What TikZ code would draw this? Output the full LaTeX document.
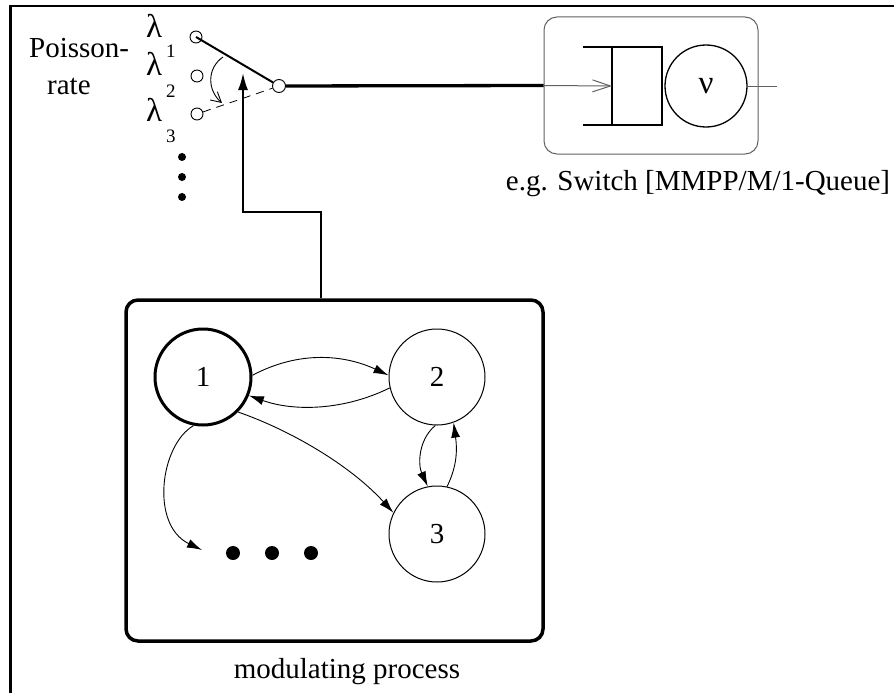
\documentclass[tikz,border=0pt]{standalone}
\usepackage{fontspec}
\setmainfont{Liberation Serif}
\usetikzlibrary{arrows.meta,calc}
\definecolor{boxgray}{gray}{0.38}
\begin{document}
\begin{tikzpicture}[x=1pt,y=-1pt,
  bigfont/.style={font=\fontsize{29}{33}\selectfont},
  lamfont/.style={font=\fontsize{33}{36}\selectfont},
  subfont/.style={font=\fontsize{19}{22}\selectfont},
  txt/.style={inner sep=0pt,bigfont},
  contact/.style={circle,draw,line width=0.9pt,minimum size=12pt,inner sep=0pt},
  state/.style={circle,draw,line width=1pt,minimum size=96pt,inner sep=0pt,bigfont},
  bigdot/.style={circle,fill,minimum size=14pt,inner sep=0pt},
  smalldot/.style={circle,fill,minimum size=8pt,inner sep=0pt},
  trans/.style={line width=0.9pt,-{Latex[length=15pt,width=9pt]}},
  ]
\useasboundingbox (0,0) rectangle (894,693);
% frame
\draw[line width=2.5pt] (10.5,693) -- (10.5,6) -- (894,6);

% Poisson rate text
\node[txt,anchor=base west] (ptxt) at (29,58) {Poisson-};
\node[txt,anchor=base west] (rtxt) at (47,95) {rate};

% lambdas
\node[inner sep=0pt,lamfont,anchor=base west] (l1) at (146,38) {λ};
\node[inner sep=0pt,lamfont,anchor=base west] (l2) at (146,76) {λ};
\node[inner sep=0pt,lamfont,anchor=base west] (l3) at (146,121) {λ};
\node[inner sep=0pt,subfont,anchor=base west] (s1) at (166,58) {1};
\node[inner sep=0pt,subfont,anchor=base west] (s2) at (166,97) {2};
\node[inner sep=0pt,subfont,anchor=base west] (s3) at (166,142) {3};
\node[smalldot] (vd1) at (182,157) {};
\node[smalldot] (vd2) at (182,177) {};
\node[smalldot] (vd3) at (182,197) {};

% switch
\node[contact] (c1) at (196,37) {};
\node[contact] (c2) at (197,76) {};
\node[contact] (c3) at (197,114) {};
\node[contact,minimum size=13pt] (pv) at (279,86) {};
\draw[line width=2pt] (c1.center) -- (pv);
\draw[line width=0.8pt,dash pattern=on 8pt off 6pt] (c3) -- (pv);
\coordinate (sa) at (223,57);
\coordinate (sb) at (222,103);
\draw[line width=0.9pt,-{Straight Barb[length=10pt,width=11pt]}] (sa) .. controls (207,68) and (207,90) .. (sb);

% queue station
\node[draw=boxgray,line width=1pt,rounded corners=13pt,minimum width=214pt,minimum height=137pt] (qbox) at (651,85.5) {};
\draw[line width=2pt] (583,47) -- (662,47) -- (662,125) -- (583,125);
\draw[line width=2pt] (612,47) -- (612,125);
\coordinate (qin) at (612,86);
\node[circle,draw,line width=1.3pt,minimum size=82pt,inner sep=0pt,lamfont] (sv) at (706,86) {ν};
\coordinate (qout) at (777,86);
\draw[line width=3.3pt] (pv) -- (qbox.west);
\draw[boxgray,line width=1pt,-{Straight Barb[length=18pt,width=12pt]}] (qbox.west) -- (qin);
\draw[boxgray,line width=1pt] (sv) -- (qout);
\node[txt,anchor=base] (qtxt) at (698,190) {e.g. Switch [MMPP/M/1-Queue]};

% modulating process box
\node[draw,line width=3.5pt,rounded corners=12pt,minimum width=417pt,minimum height=341pt] (proc) at (334.5,470.5) {};
\node[txt,anchor=base] (mtxt) at (347,678) {modulating process};
\coordinate (mid) at (321,212);
\coordinate (tip) at (243,73);
\draw[line width=2pt,-{Latex[length=17pt,width=10pt]}] (proc.north -| mid) -- (mid) -| (tip);

% states
\node[state,line width=3pt] (n1) at (203,377) {1};
\node[state] (n2) at (437,377) {2};
\node[state] (n3) at (437,534) {3};
\node[bigdot] (d1) at (233,553) {};
\node[bigdot] (d2) at (272,553) {};
\node[bigdot] (d3) at (311,553) {};
\coordinate (dtip) at (202,550);

\draw[trans] (n1.2) .. controls (300,350) and (345,355) .. (n2.178);
\draw[trans] (n2.193) .. controls (345,410) and (295,412) .. (n1.338);
\draw[trans] (n1.315) .. controls (290,430) and (350,465) .. (n3.154);
\draw[trans] (n1.259) .. controls (160,445) and (150,525) .. (dtip);
\draw[trans] (n2.268) .. controls (418,440) and (418,465) .. (n3.101);
\draw[trans] (n3.78) .. controls (455,470) and (458,455) .. (n2.290);
\end{tikzpicture}
\end{document}
